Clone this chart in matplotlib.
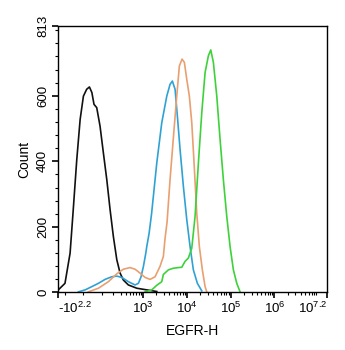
import numpy as np
import matplotlib.pyplot as plt
from matplotlib.ticker import FixedLocator, MultipleLocator

plt.rcParams['font.family'] = ['Liberation Sans', 'DejaVu Sans']
plt.rcParams['mathtext.fontset'] = 'custom'
plt.rcParams['mathtext.rm'] = 'Liberation Sans'
plt.rcParams['mathtext.it'] = 'Liberation Sans:italic'

# histogram traces (EGFR-H fluorescence, count)
black_x = [-151, -98, -66, -50, -31, -15, 0, 15, 28, 40, 51, 66, 86, 109, 136, 166,
           201, 244, 293, 350, 458, 717, 1214, 2055]
black_y = [8, 28, 120, 242, 405, 528, 599, 620, 627, 610, 574, 564, 508, 426, 344, 253,
           171, 100, 59, 38, 23, 13, 8, 3]

blue_x = [-23, 8, 40, 76, 122, 183, 244, 321, 458, 654, 781, 899, 960, 1016, 1153, 1214,
          1371, 1563, 2055, 2673, 3478, 4130, 4665, 5379, 6074, 6998, 8321, 9954,
          11830, 14070, 17370, 21880]
blue_y = [2, 8, 18, 28, 40, 48, 50, 46, 33, 23, 28, 48, 65, 79, 120, 140,
          180, 240, 395, 518, 599, 635, 645, 620, 538, 436, 324, 222,
          140, 69, 28, 5]

orange_x = [23, 76, 150, 244, 350, 501, 654, 853, 1111, 1445, 1879, 2443, 2906, 3177,
            3532, 4130, 4887, 5872, 6742, 7765, 8770, 9954, 11400, 12940, 14600, 16820,
            19280, 22580, 26050, 28470]
orange_y = [2, 13, 33, 57, 71, 76, 71, 59, 46, 40, 48, 80, 110, 165,
            215, 344, 467, 599, 691, 712, 702, 650, 599, 518, 395, 242,
            140, 69, 18, 2]

green_x = [1111, 1580, 2055, 2673, 2906, 3784, 4887, 6395, 7656, 9099, 10820, 12940,
           15380, 18330, 21880, 26050, 30970, 35150, 40290, 48170, 57300, 68120, 81430,
           96900, 115300, 137800, 164000]
green_y = [2, 8, 22, 33, 55, 69, 74, 76, 77, 95, 105, 135,
           232, 395, 548, 671, 722, 740, 702, 599, 467, 344, 232,
           140, 69, 28, 2]

x_ticks = [-10 ** 2.2, 1e3, 1e4, 1e5, 1e6, 10 ** 7.2]
x_labels = ['-$10^{2.2}$', '$10^{3}$', '$10^{4}$', '$10^{5}$', '$10^{6}$', '$10^{7.2}$']
y_ticks = [0, 200, 400, 600, 813]

C = 43.5


def fwd(x):
    return np.arcsinh(np.asarray(x, dtype=float) / (2 * C)) / np.log(10) + np.log10(C)


def inv(y):
    return 2 * C * np.sinh((np.asarray(y, dtype=float) - np.log10(C)) * np.log(10))


fig = plt.figure(figsize=(3.45, 3.5), dpi=100)
ax = fig.add_axes([0.1667, 0.1643, 0.7813, 0.7614])
ax.set_xscale('function', functions=(fwd, inv))

ax.plot(black_x, black_y, color='#111111', lw=1.2)
ax.plot(blue_x, blue_y, color='#2fa2d4', lw=1.2)
ax.plot(orange_x, orange_y, color='#e8a070', lw=1.2)
ax.plot(green_x, green_y, color='#3ed23a', lw=1.2)

ax.set_xlim(-10 ** 2.2, 10 ** 7.2)
ax.set_ylim(0, 813)

ax.xaxis.set_major_locator(FixedLocator(x_ticks))
ax.set_xticklabels(x_labels)
minors = [-100, 0, 100, 200, 300, 400, 500, 600, 700, 800, 900]
for d in range(3, 7):
    minors += [k * 10 ** d for k in range(2, 10)]
ax.xaxis.set_minor_locator(FixedLocator(minors))
ax.yaxis.set_major_locator(FixedLocator(y_ticks))
ax.yaxis.set_minor_locator(MultipleLocator(40))

ax.tick_params(axis='both', which='major', length=4, width=1.2, labelsize=9.5, pad=2)
ax.tick_params(axis='both', which='minor', length=2.5, width=0.8)
ax.tick_params(axis='y', labelrotation=90)
for lab in ax.get_yticklabels():
    lab.set_va('center')
tl = ax.get_xticklabels()
tl[0].set_ha('left')
tl[-1].set_ha('right')

for s in ax.spines.values():
    s.set_linewidth(1)

ax.set_xlabel('EGFR-H', fontsize=10, labelpad=6)
ax.set_ylabel('Count', fontsize=10, labelpad=4)

fig.savefig('out.png', dpi=100)
